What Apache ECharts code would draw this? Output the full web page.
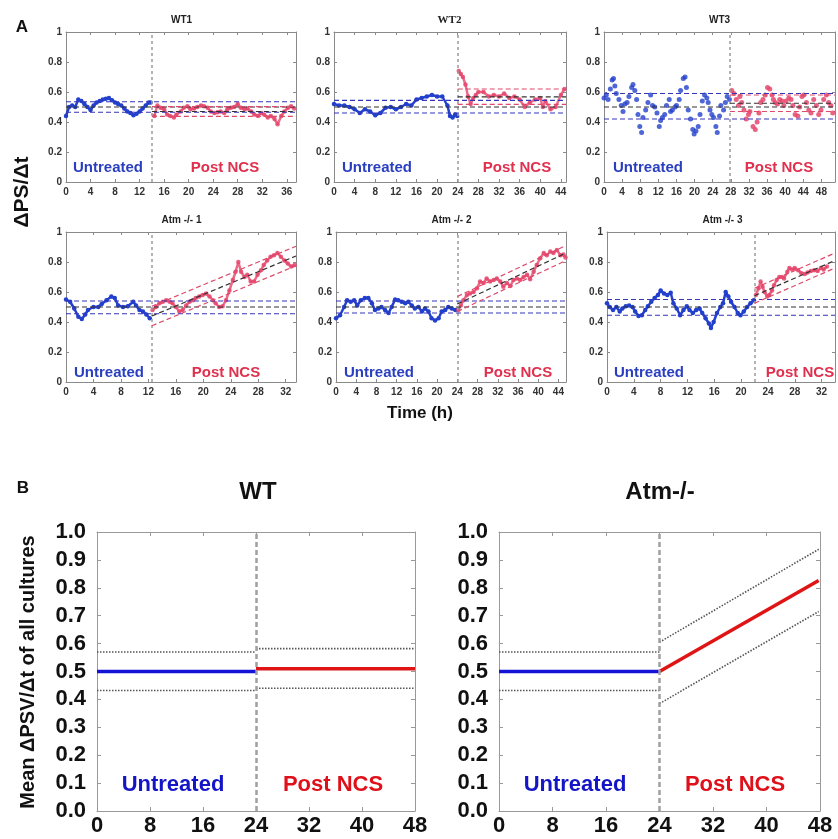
<!DOCTYPE html>
<html><head><meta charset="utf-8">
<script src="https://cdn.jsdelivr.net/npm/echarts@6/dist/echarts.min.js"></script>
<style>html,body{margin:0;padding:0;background:#fff}#c{width:838px;height:839px}</style>
</head><body><div id="c"></div><script>
// ---------------- DATA ----------------
const yTicksA = [0, 0.2, 0.4, 0.6, 0.8, 1];
const wt1Untreated = [[0,0.44],[0.5,0.50],[1,0.51],[1.5,0.50],[2,0.55],[2.5,0.54],[3,0.52],[3.5,0.50],[4,0.48],[4.5,0.51],[5,0.53],[5.5,0.54],[6,0.55],[6.5,0.555],[7,0.56],[7.5,0.545],[8,0.53],[8.5,0.52],[9,0.51],[9.5,0.49],[10,0.47],[10.5,0.46],[11,0.445],[11.5,0.455],[12,0.47],[12.5,0.49],[13,0.51],[13.5,0.53],[13.8,0.53]];
const wt1Post = [[14.4,0.44],[14.9,0.51],[15.4,0.495],[16.0,0.485],[16.5,0.45],[17.0,0.44],[17.6,0.43],[18.0,0.45],[18.7,0.47],[19.2,0.495],[19.8,0.505],[20.3,0.485],[20.9,0.49],[21.4,0.50],[22.0,0.51],[22.5,0.505],[23.1,0.495],[23.6,0.47],[24.2,0.46],[24.7,0.465],[25.2,0.47],[25.8,0.46],[26.3,0.485],[26.9,0.495],[27.4,0.50],[28.0,0.52],[28.5,0.495],[29.1,0.485],[29.6,0.49],[30.2,0.47],[30.7,0.45],[31.3,0.44],[31.8,0.46],[32.3,0.45],[32.9,0.43],[33.4,0.44],[34.0,0.42],[34.5,0.385],[35.1,0.44],[35.6,0.47],[36.2,0.495],[36.7,0.505],[37.2,0.49]];
const wt1UntBand = [0.465, 0.50, 0.535];
const wt1PostBand = [0.437, 0.47, 0.503];

const wt2Untreated = [[0,0.52],[1,0.51],[2,0.51],[3,0.50],[4,0.485],[5,0.46],[6,0.485],[7,0.47],[8,0.445],[9,0.46],[10,0.495],[11,0.50],[12,0.485],[13,0.50],[14,0.52],[15,0.51],[16,0.55],[17,0.56],[18,0.57],[19,0.58],[20,0.57],[21,0.57],[22,0.51],[22.5,0.44],[23,0.43],[23.5,0.45],[23.9,0.44]];
const wt2Post = [[24.2,0.74],[24.6,0.72],[25,0.70],[25.5,0.65],[26,0.57],[26.5,0.52],[27,0.56],[27.5,0.58],[28,0.60],[29,0.60],[30,0.57],[31,0.58],[32,0.57],[33,0.59],[34,0.56],[35,0.57],[36,0.55],[37,0.50],[38,0.53],[39,0.55],[40,0.56],[40.5,0.50],[41,0.54],[42,0.485],[43,0.50],[44,0.58],[44.7,0.62]];
const wt2UntBand = [0.46, 0.50, 0.544];
const wt2PostBand = [0.518, 0.567, 0.62];

const wt3Untreated = [[0,0.56],[0.5,0.58],[0.9,0.55],[1.4,0.62],[1.8,0.68],[2.1,0.69],[2.4,0.64],[2.7,0.59],[3.3,0.55],[3.8,0.51],[4.2,0.47],[4.6,0.52],[5.1,0.53],[5.5,0.57],[6.1,0.63],[6.4,0.65],[6.8,0.61],[7.2,0.55],[7.5,0.45],[7.9,0.37],[8.3,0.33],[8.6,0.43],[9.2,0.48],[9.7,0.53],[10.3,0.58],[10.7,0.51],[11.2,0.50],[11.7,0.46],[12.2,0.37],[12.5,0.41],[12.9,0.43],[13.4,0.45],[13.8,0.51],[14.4,0.55],[14.7,0.47],[15.1,0.48],[15.7,0.50],[16.0,0.51],[16.6,0.55],[16.9,0.61],[17.5,0.69],[17.9,0.70],[18.2,0.63],[18.6,0.48],[19.1,0.42],[19.6,0.35],[19.9,0.32],[20.3,0.34],[20.8,0.37],[21.2,0.45],[21.7,0.54],[22.2,0.58],[22.7,0.56],[23.0,0.53],[23.4,0.48],[23.8,0.45],[24.2,0.43],[24.7,0.37],[25.0,0.33],[25.5,0.44],[25.8,0.51],[26.4,0.48],[26.8,0.53],[27.2,0.57],[27.7,0.55]];
const wt3Post = [[28.2,0.61],[28.7,0.59],[29.2,0.55],[29.7,0.51],[30.0,0.57],[30.4,0.53],[30.9,0.48],[31.4,0.42],[31.9,0.45],[32.2,0.47],[32.9,0.37],[33.4,0.35],[33.8,0.40],[34.2,0.46],[34.6,0.53],[35.1,0.55],[35.6,0.58],[36.1,0.63],[36.6,0.62],[37.1,0.58],[37.4,0.55],[37.8,0.53],[38.3,0.52],[38.8,0.55],[39.3,0.54],[39.7,0.51],[40.2,0.54],[40.8,0.56],[41.3,0.55],[41.7,0.51],[42.2,0.45],[42.8,0.44],[43.2,0.50],[43.7,0.57],[44.1,0.58],[44.7,0.53],[45.2,0.48],[45.7,0.46],[46.3,0.55],[46.9,0.51],[47.4,0.45],[47.9,0.48],[48.5,0.55],[49.1,0.58],[49.6,0.53],[50.1,0.51],[50.5,0.46]];
const wt3UntBand = [0.42, 0.50, 0.59];
const wt3PostBand = [0.47, 0.525, 0.58];

const atm1Untreated = [[0,0.55],[0.6,0.535],[1.2,0.49],[1.8,0.435],[2.3,0.42],[2.8,0.45],[3.2,0.48],[4.0,0.50],[4.7,0.50],[5.2,0.52],[5.9,0.545],[6.6,0.57],[7.1,0.56],[7.6,0.51],[8.3,0.50],[9.0,0.505],[9.8,0.535],[10.2,0.51],[10.7,0.48],[11.2,0.47],[11.7,0.45],[12.2,0.425]];
const atm1Post = [[12.6,0.48],[13.1,0.50],[13.6,0.525],[14.1,0.535],[14.6,0.545],[15.1,0.535],[15.5,0.525],[16.0,0.50],[16.5,0.47],[17.0,0.48],[17.5,0.51],[18.0,0.535],[18.5,0.545],[18.9,0.56],[19.4,0.57],[19.9,0.58],[20.4,0.59],[20.9,0.57],[21.4,0.545],[21.8,0.525],[22.3,0.50],[22.8,0.505],[23.3,0.545],[23.8,0.61],[24.3,0.68],[24.7,0.735],[25.1,0.80],[25.5,0.735],[26.0,0.70],[26.4,0.715],[26.9,0.67],[27.4,0.67],[27.9,0.715],[28.4,0.745],[28.8,0.78],[29.3,0.81],[29.8,0.835],[30.3,0.845],[30.8,0.86],[31.3,0.835],[31.8,0.81],[32.3,0.79],[32.8,0.77],[33.3,0.78]];
const atm1UntBand = [0.455, 0.50, 0.54];
const atm1PostFit = [12.5, 33.5, 0.44, 0.84, 0.065];   // tStart, tEnd, fitStart, fitEnd, halfWidth

const atm2Untreated = [[0,0.425],[0.8,0.445],[1.6,0.50],[2.2,0.545],[2.9,0.535],[3.6,0.545],[4.2,0.51],[4.9,0.545],[5.7,0.56],[6.4,0.56],[7.1,0.525],[7.7,0.48],[8.4,0.49],[9.0,0.50],[9.7,0.48],[10.4,0.46],[11.0,0.50],[11.7,0.55],[12.3,0.545],[13.0,0.535],[13.7,0.525],[14.3,0.535],[15.0,0.51],[15.6,0.49],[16.3,0.50],[17.0,0.47],[17.6,0.49],[18.3,0.47],[18.9,0.425],[19.6,0.41],[20.3,0.425],[20.9,0.47],[21.6,0.48],[22.2,0.50],[22.9,0.49],[23.6,0.48]];
const atm2Post = [[24.2,0.48],[24.7,0.51],[25.2,0.545],[25.9,0.58],[26.5,0.59],[27.2,0.60],[27.9,0.625],[28.5,0.67],[29.2,0.66],[29.8,0.69],[30.5,0.67],[31.2,0.68],[31.8,0.69],[32.5,0.67],[33.1,0.635],[33.8,0.66],[34.5,0.64],[35.1,0.68],[35.8,0.69],[36.4,0.68],[37.1,0.70],[37.8,0.715],[38.4,0.685],[39.1,0.735],[39.7,0.78],[40.4,0.825],[41.1,0.86],[41.7,0.845],[42.4,0.87],[43.0,0.86],[43.7,0.88],[44.4,0.845],[45.0,0.85],[45.4,0.83]];
const atm2UntBand = [0.46, 0.50, 0.54];
const atm2PostFit = [24, 45.5, 0.52, 0.86, 0.05];

const atm3Untreated = [[0,0.525],[0.4,0.50],[0.9,0.48],[1.4,0.50],[1.9,0.47],[2.3,0.49],[2.8,0.505],[3.3,0.51],[3.8,0.50],[4.2,0.47],[4.7,0.44],[5.2,0.445],[5.7,0.48],[6.1,0.505],[6.6,0.535],[7.1,0.56],[7.6,0.58],[8.0,0.61],[8.5,0.59],[9.0,0.58],[9.5,0.595],[9.9,0.525],[10.4,0.49],[10.9,0.445],[11.4,0.48],[11.9,0.505],[12.3,0.48],[12.8,0.46],[13.3,0.48],[13.8,0.49],[14.2,0.46],[14.7,0.425],[15.2,0.39],[15.5,0.36],[15.9,0.40],[16.4,0.46],[16.9,0.50],[17.3,0.525],[17.7,0.60],[18.1,0.57],[18.5,0.535],[19.0,0.50],[19.5,0.46],[19.9,0.445],[20.4,0.47],[20.9,0.50],[21.4,0.525],[21.9,0.545]];
const atm3Post = [[22.2,0.58],[22.6,0.625],[22.9,0.67],[23.2,0.635],[23.5,0.60],[23.9,0.57],[24.2,0.58],[24.6,0.61],[24.9,0.645],[25.3,0.68],[25.7,0.70],[26.1,0.70],[26.4,0.69],[26.9,0.735],[27.2,0.76],[27.6,0.75],[28.0,0.76],[28.5,0.745],[29.0,0.725],[29.5,0.72],[29.9,0.73],[30.4,0.74],[30.9,0.745],[31.4,0.74],[31.9,0.76],[32.3,0.75],[32.8,0.77]];
const atm3UntBand = [0.445, 0.50, 0.55];
const atm3PostFit = [22, 34, 0.575, 0.81, 0.05];

// Panel B (means of all cultures)
const yTicksB = [0, 0.1, 0.2, 0.3, 0.4, 0.5, 0.6, 0.7, 0.8, 0.9, 1.0];
const xTicksB = [0, 8, 16, 24, 32, 40, 48];
const bWtUntreated = [[0,0.50],[24,0.50]];
const bWtUntHi = [[0,0.57],[24,0.57]];
const bWtUntLo = [[0,0.432],[24,0.432]];
const bWtPost = [[24,0.51],[48,0.51]];
const bWtPostHi = [[24,0.582],[48,0.582]];
const bWtPostLo = [[24,0.44],[48,0.44]];
const bAtmUntreated = [[0,0.50],[24,0.50]];
const bAtmUntHi = [[0,0.57],[24,0.57]];
const bAtmUntLo = [[0,0.432],[24,0.432]];
const bAtmPost = [[24,0.50],[47.8,0.826]];
const bAtmPostHi = [[24,0.605],[47.8,0.938]];
const bAtmPostLo = [[24,0.385],[47.8,0.715]];
const bTreat = 24;

// ---------------- LAYOUT / STYLE ----------------
const BLUE = '#2340cc', RED = '#e6466c', BLUE_D = '#3535b8', RED_D = '#dd4a6a', BLK_D = '#333';
const FAM = '"Liberation Sans", Arial, sans-serif';
const FONT = FAM;
const panels = [
  {title:'WT1', serif:false, grid:{left:66, top:32, width:230, height:150}, xMax:37.5, treat:14, unt:wt1Untreated, post:wt1Post, untBand:wt1UntBand, postBand:wt1PostBand, scatter:false},
  {title:'WT2', serif:true, grid:{left:334, top:32, width:232, height:150}, xMax:45, treat:24, unt:wt2Untreated, post:wt2Post, untBand:wt2UntBand, postBand:wt2PostBand, scatter:false},
  {title:'WT3', serif:false, grid:{left:604, top:32, width:233, height:150}, xMax:51, treat:27.8, unt:wt3Untreated, post:wt3Post, untBand:wt3UntBand, postBand:wt3PostBand, scatter:true},
  {title:'Atm -/- 1', serif:false, grid:{left:66, top:232, width:230, height:150}, xMax:33.5, treat:12.5, unt:atm1Untreated, post:atm1Post, untBand:atm1UntBand, postFit:atm1PostFit, scatter:false},
  {title:'Atm -/- 2', serif:false, grid:{left:336, top:232, width:230, height:150}, xMax:45.5, treat:24, unt:atm2Untreated, post:atm2Post, untBand:atm2UntBand, postFit:atm2PostFit, scatter:false},
  {title:'Atm -/- 3', serif:false, grid:{left:607, top:232, width:238, height:150}, xMax:34, treat:22, unt:atm3Untreated, post:atm3Post, untBand:atm3UntBand, postFit:atm3PostFit, scatter:false}
];

const grids = [], xAxes = [], yAxes = [], series = [], graphic = [];

function addAxes(gi, xMax, xInt, yInt, opt) {
  const lineCol = opt.lineCol;
  const common = {gridIndex: gi, splitLine:{show:false}, axisLine:{show:true, onZero:false, lineStyle:{color:lineCol, width:1}},
                  axisTick:{show:true, inside:true, length:opt.tickLen, lineStyle:{color:lineCol}}};
  const lab = {show:true, color:opt.labelCol, fontWeight:'bold', fontSize:opt.fontSize, fontFamily:FAM};
  xAxes.push(Object.assign({}, common, {type:'value', position:'bottom', min:0, max:xMax, interval:xInt,
    axisLabel:Object.assign({}, lab, {margin:opt.xMargin, hideOverlap:false,
      formatter:v => (Math.abs(v/xInt - Math.round(v/xInt)) < 1e-6 ? String(Math.round(v)) : '')})}));
  xAxes.push(Object.assign({}, common, {type:'value', position:'top', min:0, max:xMax, interval:xInt, axisLabel:{show:false}}));
  yAxes.push(Object.assign({}, common, {type:'value', position:'left', min:0, max:1, interval:yInt,
    axisLabel:Object.assign({}, lab, {margin:opt.yMargin, formatter:opt.yFmt})}));
  yAxes.push(Object.assign({}, common, {type:'value', position:'right', min:0, max:1, interval:yInt, axisLabel:{show:false}}));
}

function lineS(gi, data, color, width, type, z, extra) {
  return Object.assign({type:'line', xAxisIndex:2*gi, yAxisIndex:2*gi, data:data, showSymbol:false, symbol:'none',
    lineStyle:{color:color, width:width, type:type}, itemStyle:{color:color}, silent:true, z:z, animation:false}, extra || {});
}

function vline(x, color, width, dash) {
  return {silent:true, symbol:['none','none'], label:{show:false}, animation:false,
    lineStyle:{color:color, width:width, type:dash}, data:[{xAxis:x}]};
}

panels.forEach((p, gi) => {
  grids.push(Object.assign({containLabel:false}, p.grid));
  addAxes(gi, p.xMax, 4, 0.2, {lineCol:'#8a8a8a', tickLen:3, xMargin:5, yMargin:4, labelCol:'#333',
    fontSize:10, yFmt:v => String(Math.round(v*10)/10)});
  const ptStyle = p.scatter
    ? {type:'scatter', symbolSize:5}
    : {type:'line', showSymbol:true, symbol:'circle', symbolSize:4.5};
  const untS = Object.assign({xAxisIndex:2*gi, yAxisIndex:2*gi, data:p.unt, itemStyle:{color:BLUE}, lineStyle:{color:BLUE, width:2.5},
    silent:true, animation:false, z:3, markLine: vline(p.treat, '#9a9a9a', 1.5, [3,3])}, ptStyle);
  const postS = Object.assign({xAxisIndex:2*gi, yAxisIndex:2*gi, data:p.post, itemStyle:{color:RED, opacity:0.85}, lineStyle:{color:RED, width:2.5, opacity:0.8},
    silent:true, animation:false, z:3}, ptStyle);
  series.push(untS, postS);
  const b = p.untBand;
  series.push(lineS(gi, [[0,b[0]],[p.xMax,b[0]]], BLUE_D, 1.2, [5,3], 5));
  series.push(lineS(gi, [[0,b[1]],[p.xMax,b[1]]], BLK_D, 1.2, [5,3], 5));
  series.push(lineS(gi, [[0,b[2]],[p.xMax,b[2]]], BLUE_D, 1.2, [5,3], 5));
  if (p.postBand) {
    const q = p.postBand;
    series.push(lineS(gi, [[p.treat,q[0]],[p.xMax,q[0]]], RED_D, 1.2, [5,3], 6));
    series.push(lineS(gi, [[p.treat,q[1]],[p.xMax,q[1]]], BLK_D, 1.2, [5,3], 6));
    series.push(lineS(gi, [[p.treat,q[2]],[p.xMax,q[2]]], RED_D, 1.2, [5,3], 6));
  } else {
    const f = p.postFit;
    series.push(lineS(gi, [[f[0],f[2]-f[4]],[f[1],f[3]-f[4]]], RED_D, 1.2, [5,3], 6));
    series.push(lineS(gi, [[f[0],f[2]],[f[1],f[3]]], BLK_D, 1.2, [5,3], 6));
    series.push(lineS(gi, [[f[0],f[2]+f[4]],[f[1],f[3]+f[4]]], RED_D, 1.2, [5,3], 6));
  }
  const cx = p.grid.left + 115.5;
  graphic.push({type:'text', x:cx, y:p.grid.top - 12, style:{text:p.title, fill:'#222',
    font:(p.serif ? 'bold 11px "Liberation Serif", serif' : 'bold 10px ' + FONT), textAlign:'center', textVerticalAlign:'middle', align:'center', verticalAlign:'middle'}});
});

const bPanels = [
  {grid:{left:97, top:532, width:318, height:279}, unt:bWtUntreated, untHi:bWtUntHi, untLo:bWtUntLo, post:bWtPost, postHi:bWtPostHi, postLo:bWtPostLo},
  {grid:{left:499, top:532, width:321, height:279}, unt:bAtmUntreated, untHi:bAtmUntHi, untLo:bAtmUntLo, post:bAtmPost, postHi:bAtmPostHi, postLo:bAtmPostLo}
];
bPanels.forEach((p, k) => {
  const gi = panels.length + k;
  grids.push(Object.assign({containLabel:false}, p.grid));
  addAxes(gi, 48, 8, 0.1, {lineCol:'#999', tickLen:4, xMargin:4, yMargin:11, labelCol:'#111',
    fontSize:22, yFmt:v => v.toFixed(1)});
  const u = lineS(gi, p.unt, '#1414d6', 3.5, 'solid', 4);
  u.markLine = vline(bTreat, '#a0a0a0', 2.5, [5,3]);
  series.push(u);
  series.push(lineS(gi, p.untHi, '#555', 1.6, [1.5,1.5], 3));
  series.push(lineS(gi, p.untLo, '#555', 1.6, [1.5,1.5], 3));
  series.push(lineS(gi, p.post, '#e01414', 3.5, 'solid', 4));
  series.push(lineS(gi, p.postHi, '#555', 1.6, [1.5,1.5], 3));
  series.push(lineS(gi, p.postLo, '#555', 1.6, [1.5,1.5], 3));
});

function txt(x, y, text, font, fill, rot) {
  const o = {type:'text', x:x, y:y, style:{text:text, font:font, fill:fill, textAlign:'center', textVerticalAlign:'middle', align:'center', verticalAlign:'middle'}, z:100};
  if (rot) o.rotation = rot;
  return o;
}
const UA = 'bold 15px ' + FONT;
graphic.push(
  txt(22, 27, 'A', 'bold 17px ' + FONT, '#111'),
  txt(22, 192, 'ΔPS/Δt', 'bold 21px ' + FONT, '#111', Math.PI/2),
  txt(420, 413, 'Time (h)', 'bold 17px ' + FONT, '#111'),
  txt(108, 168, 'Untreated', UA, '#2a3fc0'), txt(225, 168, 'Post NCS', UA, '#e0304e'),
  txt(377, 168, 'Untreated', UA, '#2a3fc0'), txt(517, 168, 'Post NCS', UA, '#e0304e'),
  txt(648, 168, 'Untreated', UA, '#2a3fc0'), txt(779, 168, 'Post NCS', UA, '#e0304e'),
  txt(109, 373, 'Untreated', UA, '#2a3fc0'), txt(226, 373, 'Post NCS', UA, '#e0304e'),
  txt(379, 373, 'Untreated', UA, '#2a3fc0'), txt(518, 373, 'Post NCS', UA, '#e0304e'),
  txt(649, 373, 'Untreated', UA, '#2a3fc0'), txt(800, 373, 'Post NCS', UA, '#e0304e'),
  txt(23, 488, 'B', 'bold 17px ' + FONT, '#111'),
  txt(258, 492, 'WT', 'bold 24px ' + FONT, '#111'),
  txt(660, 492, 'Atm-/-', 'bold 24px ' + FONT, '#111'),
  txt(28, 672, 'Mean ΔPSV/Δt of all cultures', 'bold 20px ' + FONT, '#111', Math.PI/2),
  txt(173, 785, 'Untreated', 'bold 22px ' + FONT, '#1515c8'), txt(333, 785, 'Post NCS', 'bold 22px ' + FONT, '#e0101a'),
  txt(575, 785, 'Untreated', 'bold 22px ' + FONT, '#1515c8'), txt(735, 785, 'Post NCS', 'bold 22px ' + FONT, '#e0101a')
);

const chart = echarts.init(document.getElementById('c'), null, {renderer:'canvas'});
chart.setOption({backgroundColor:'#fff', animation:false, grid:grids, xAxis:xAxes, yAxis:yAxes, series:series, graphic:graphic});
</script></body></html>
